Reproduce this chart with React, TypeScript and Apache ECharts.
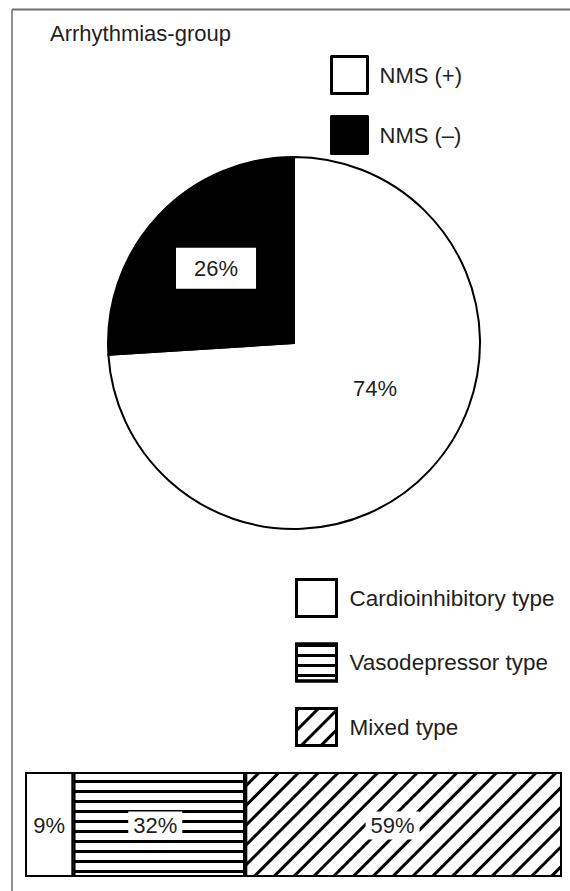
import React, { useEffect, useRef } from "react";
import * as echarts from "echarts";

const titleText = "Arrhythmias-group";
const pieNames = ["NMS (+)", "NMS (–)"];
const pieValues = [74, 26];
const pieColors = ["#ffffff", "#000000"];
const barNames = ["Cardioinhibitory type", "Vasodepressor type", "Mixed type"];
const barValues = [9, 32, 59];
const barCategory = ["Arrhythmias-group"];

const FONT = "'Liberation Sans', Arial, Helvetica, sans-serif";
const TEXT = "#231f20";

export default function App() {
  const ref = useRef<HTMLDivElement>(null);
  useEffect(() => {
    if (!ref.current) return;
    const chart = echarts.init(ref.current, undefined, { renderer: "svg" });
    const decals: any[] = [
      undefined,
      {
        symbol: "rect",
        symbolSize: 1,
        color: "#000",
        backgroundColor: "#fff",
        dashArrayX: [1, 0],
        dashArrayY: [2.5, 7],
        rotation: 0,
      },
      {
        symbol: "rect",
        symbolSize: 1,
        color: "#000",
        backgroundColor: "#fff",
        dashArrayX: [1, 0],
        dashArrayY: [2.2, 10.8],
        rotation: -Math.PI / 4,
      },
    ];
    const labelShift = [0, -4, -11];
    const option: any = {
      animation: false,
      backgroundColor: "#fff",
      textStyle: { fontFamily: FONT, color: TEXT },
      title: {
        text: titleText,
        left: 50,
        top: 22,
        padding: 0,
        textStyle: { fontFamily: FONT, fontSize: 22, fontWeight: "normal", color: TEXT },
      },
      graphic: [
        {
          type: "line",
          shape: { x1: 12, y1: 9.5, x2: 570, y2: 9.5 },
          style: { stroke: "#6e6e6e", lineWidth: 1.8 },
          silent: true,
        },
        {
          type: "line",
          shape: { x1: 12, y1: 9.5, x2: 12, y2: 891 },
          style: { stroke: "#6e6e6e", lineWidth: 1.5 },
          silent: true,
        },
      ],
      legend: [
        {
          data: pieNames,
          orient: "vertical",
          left: 330,
          top: 55,
          padding: 0,
          itemWidth: 36,
          itemHeight: 37,
          itemGap: 20,
          icon: "rect",
          selectedMode: false,
          itemStyle: { borderColor: "#000", borderWidth: 3 },
          textStyle: { fontFamily: FONT, fontSize: 22, color: TEXT, padding: [0, 0, 0, 7] },
        },
        {
          data: barNames,
          orient: "vertical",
          left: 295,
          top: 578,
          padding: 0,
          itemWidth: 40,
          itemHeight: 37,
          itemGap: 24.5,
          icon: "rect",
          selectedMode: false,
          itemStyle: { borderColor: "#000", borderWidth: 3 },
          textStyle: { fontFamily: FONT, fontSize: 22.5, color: TEXT, padding: [0, 0, 0, 8] },
        },
      ],
      grid: { left: 25, right: 8, top: 772, bottom: 14 },
      xAxis: { type: "value", min: 0, max: 100, show: false },
      yAxis: { type: "category", data: barCategory, show: false },
      series: [
        {
          type: "pie",
          center: [294, 343],
          radius: 186,
          startAngle: 90,
          clockwise: true,
          avoidLabelOverlap: false,
          itemStyle: { borderColor: "#000", borderWidth: 2 },
          emphasis: { disabled: true },
          label: {
            show: true,
            position: "inside",
            formatter: "{c}%",
            fontFamily: FONT,
            fontSize: 22,
            color: TEXT,
          },
          labelLayout: (p: any) =>
            p.dataIndex === 0 ? { dx: 11, dy: -20 } : { dx: -8, dy: -9 },
          data: pieNames.map((n, i) => ({
            name: n,
            value: pieValues[i],
            itemStyle: { color: pieColors[i] },
            label:
              i === 1
                ? { backgroundColor: "#fff", padding: [10, 18, 9, 18] }
                : {},
          })),
        },
        ...barNames.map((n, i) => ({
          type: "bar",
          name: n,
          stack: "all",
          barWidth: "100%",
          data: [barValues[i]],
          emphasis: { disabled: true },
          itemStyle: {
            color: "#fff",
            borderColor: "#000",
            borderWidth: 2,
            decal: decals[i],
          },
          labelLayout: { dx: labelShift[i], dy: 1 },
          label: {
            show: true,
            position: "inside",
            formatter: "{c}%",
            fontFamily: FONT,
            fontSize: 22,
            color: TEXT,
            backgroundColor: i === 0 ? "transparent" : "#fff",
            padding: i === 0 ? 0 : [3, 5],
          },
        })),
      ],
    };
    chart.setOption(option);
    return () => chart.dispose();
  }, []);
  return (
    <div
      ref={ref}
      style={{ position: "fixed", left: 0, top: 0, width: 570, height: 891, background: "#fff" }}
    />
  );
}
